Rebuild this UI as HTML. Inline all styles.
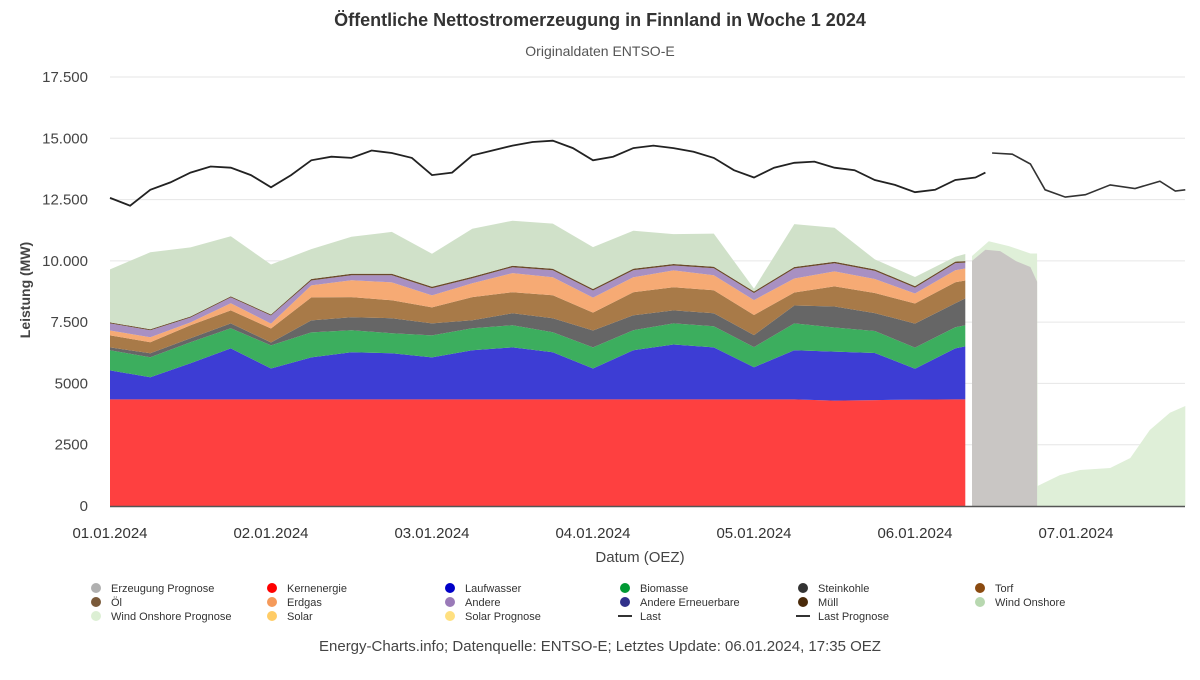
<!DOCTYPE html>
<html><head><meta charset="utf-8">
<style>
body{margin:0;background:#fff;font-family:"Liberation Sans",sans-serif;}
svg text{font-family:"Liberation Sans",sans-serif;}
</style></head>
<body>
<svg id="chart" width="1200" height="675" viewBox="0 0 1200 675" xmlns="http://www.w3.org/2000/svg">
<rect width="1200" height="675" fill="#fff"/>
<text x="600" y="26" text-anchor="middle" font-size="18" font-weight="bold" fill="#333">Öffentliche Nettostromerzeugung in Finnland in Woche 1 2024</text>
<text x="600" y="56" text-anchor="middle" font-size="14" fill="#555">Originaldaten ENTSO-E</text>
<g id="grid"></g>
<g id="areas"></g>
<g id="lines"></g>
<g id="axes"></g>
<text x="640" y="562" text-anchor="middle" font-size="15" fill="#444">Datum (OEZ)</text>
<text transform="translate(30,290) rotate(-90)" text-anchor="middle" font-size="14" font-weight="bold" fill="#444">Leistung (MW)</text>
<g id="legend"></g>
<text x="600" y="651" text-anchor="middle" font-size="15" fill="#444">Energy-Charts.info; Datenquelle: ENTSO-E; Letztes Update: 06.01.2024, 17:35 OEZ</text>
</svg>
<script>
const hours = [0,6,12,18,24,30,36,42,48,54,60,66,72,78,84,90,96,102,108,114,120,126,127.5];
const nuclear = [4350,4350,4350,4350,4350,4350,4350,4350,4350,4350,4350,4350,4350,4350,4350,4350,4350,4350,4300,4320,4340,4350,4350];
const hydro = [1180,900,1470,2080,1260,1710,1920,1880,1710,2000,2120,1920,1260,2000,2240,2120,1310,2000,2000,1920,1260,2080,2160];
const biomass = [820,820,860,820,940,1020,900,820,900,900,900,820,860,820,860,860,820,1100,980,900,860,860,860];
const coal = [120,160,160,200,120,490,530,610,490,330,490,570,690,610,530,530,490,730,860,730,980,980,1100];
const peat = [490,450,530,530,570,940,820,730,650,940,860,940,730,940,940,940,820,530,820,820,820,860,730];
const gas = [200,200,120,290,200,490,690,730,490,570,780,730,610,610,690,610,610,570,610,570,410,490,490];
const other = [290,290,200,240,330,200,200,290,290,200,240,290,290,290,200,290,290,410,330,330,240,290,240];
const waste = [40,40,40,40,40,60,60,60,60,60,60,60,60,60,60,60,60,60,60,60,60,60,60];
const wind = [2160,3140,2820,2450,2040,1220,1510,1710,1350,1960,1840,1840,1710,1550,1220,1350,120,1750,1390,410,370,200,290];

const loadHours = [0,3,6,9,12,15,18,21,24,27,30,33,36,39,42,45,48,51,54,57,60,63,66,69,72,75,78,81,84,87,90,93,96,99,102,105,108,111,114,117,120,123,126,129,130.5];
const load = [12570,12250,12900,13200,13600,13850,13800,13500,13000,13500,14100,14250,14200,14500,14400,14200,13500,13600,14300,14500,14700,14850,14900,14600,14100,14250,14600,14700,14600,14450,14200,13700,13400,13800,14000,14050,13800,13700,13300,13100,12800,12900,13300,13400,13600];
const loadFcHours = [131.5,134.5,137.2,139.4,142.4,145.4,149.1,152.8,156.5,158.8,160.3];
const loadFc = [14400,14350,13950,12900,12600,12700,13100,12950,13250,12850,12900];
const genFcHours = [128.5,130.5,132.7,135,137.2,138.2];
const genFc = [10000,10450,10400,10000,9750,9150];
const windFcHours = [128.5,131,134,137.2,138.2,138.3,141.6,144.6,149.1,152.1,155,158,160.3];
const windFc = [10200,10800,10600,10300,10300,820,1260,1470,1550,1960,3100,3800,4080];
const yTicks = [0,2500,5000,7500,10000,12500,15000,17500];
const yTickLabels = ["0","2500","5000","7.500","10.000","12.500","15.000","17.500"];
const xTickHours = [0,24,48,72,96,120,144];
const xTickLabels = ["01.01.2024","02.01.2024","03.01.2024","04.01.2024","05.01.2024","06.01.2024","07.01.2024"];

const NS="http://www.w3.org/2000/svg";
const X0=110, PXH=161/24, Y0=506, YMAX=17500, YH=429;
function xs(h){return X0+h*PXH;}
function ys(v){return Y0-v/YMAX*YH;}
function mk(tag,parent,attrs){const e=document.createElementNS(NS,tag);for(const k in attrs)e.setAttribute(k,attrs[k]);parent.appendChild(e);return e;}

const grid=document.getElementById('grid'), axes=document.getElementById('axes');
yTicks.forEach((t,i)=>{
  if(t>0){const l=mk('line',grid,{x1:X0,x2:1185,y1:ys(t),y2:ys(t),stroke:'#e6e6e6','stroke-width':1});
  
  }
  const tx=mk('text',axes,{x:88,y:ys(t)+5,'text-anchor':'end','font-size':15,fill:'#444'});
  tx.textContent=yTickLabels[i];
  
  
});
xTickHours.forEach((h,i)=>{
  const tx=mk('text',axes,{x:xs(h),y:538,'text-anchor':'middle','font-size':15,fill:'#333'});
  tx.textContent=xTickLabels[i];
  
  
});
const ax=mk('line',axes,{x1:X0,x2:1185,y1:Y0+0.5,y2:Y0+0.5,stroke:'#555','stroke-width':1.5});



const areas=document.getElementById('areas');
const series=[
 ['nuclear-area',nuclear,'#fe4040'],['hydro-area',hydro,'#3d3dd4'],['biomass-area',biomass,'#3cae5e'],
 ['coal-area',coal,'#666666'],['peat-oil-area',peat,'#a87a48'],['gas-area',gas,'#f6aa74'],
 ['other-area',other,'#a890c2'],['waste-area',waste,'#6a4a2a'],['wind-area',wind,'#d0e1c9']];
function areaPath(hs,lo,hi){let d='';hs.forEach((h,i)=>{d+=(i?'L':'M')+xs(h).toFixed(1)+','+ys(hi[i]).toFixed(1);});
 for(let i=hs.length-1;i>=0;i--)d+='L'+xs(hs[i]).toFixed(1)+','+ys(lo[i]).toFixed(1);return d+'Z';}
const wf=mk('path',areas,{d:areaPath(windFcHours,windFc.map(()=>0),windFc),fill:'#dfefd8'});


const gf=mk('path',areas,{d:areaPath(genFcHours,genFc.map(()=>0),genFc),fill:'#c9c6c4'});


let base=hours.map(()=>0);
series.forEach(s=>{
  const top=base.map((b,i)=>b+s[1][i]);
  const p=mk('path',areas,{d:areaPath(hours,base,top),fill:s[2]});
  
  
  base=top;
});

const lines=document.getElementById('lines');
function linePath(hs,vs){return hs.map((h,i)=>(i?'L':'M')+xs(h).toFixed(1)+','+ys(vs[i]).toFixed(1)).join('');}
const ll=mk('path',lines,{d:linePath(loadHours,load),fill:'none',stroke:'#222','stroke-width':1.8});


const lf=mk('path',lines,{d:linePath(loadFcHours,loadFc),fill:'none',stroke:'#333','stroke-width':1.6});



const legend=document.getElementById('legend');
const legItems=[
 ['Erzeugung Prognose','#b0b0b0','c'],['Kernenergie','#ff0000','c'],['Laufwasser','#0000c8','c'],['Biomasse','#009933','c'],['Steinkohle','#333333','c'],['Torf','#8b4a10','c'],
 ['Öl','#7a5a3a','c'],['Erdgas','#f59a5a','c'],['Andere','#9a7ab8','c'],['Andere Erneuerbare','#30308a','c'],['Müll','#4a2a0a','c'],['Wind Onshore','#b8d8b0','c'],
 ['Wind Onshore Prognose','#dcefd4','c'],['Solar','#ffcc66','c'],['Solar Prognose','#ffe080','c'],['Last','#333','l'],['Last Prognose','#333','l']];
const colX=[96,272,450,625,803,980], rowY=[588,602,616];
legItems.forEach((it,i)=>{
  const cx=colX[i%6], cy=rowY[Math.floor(i/6)];
  const g=mk('g',legend,{});
  
  
  if(it[2]==='c')mk('circle',g,{cx:cx,cy:cy,r:5,fill:it[1]});
  else mk('line',g,{x1:cx-7,x2:cx+7,y1:cy,y2:cy,stroke:it[1],'stroke-width':2});
  const t=mk('text',g,{x:cx+15,y:cy+4,'font-size':11,fill:'#333'});
  t.textContent=it[0];
});
</script>
</body></html>
